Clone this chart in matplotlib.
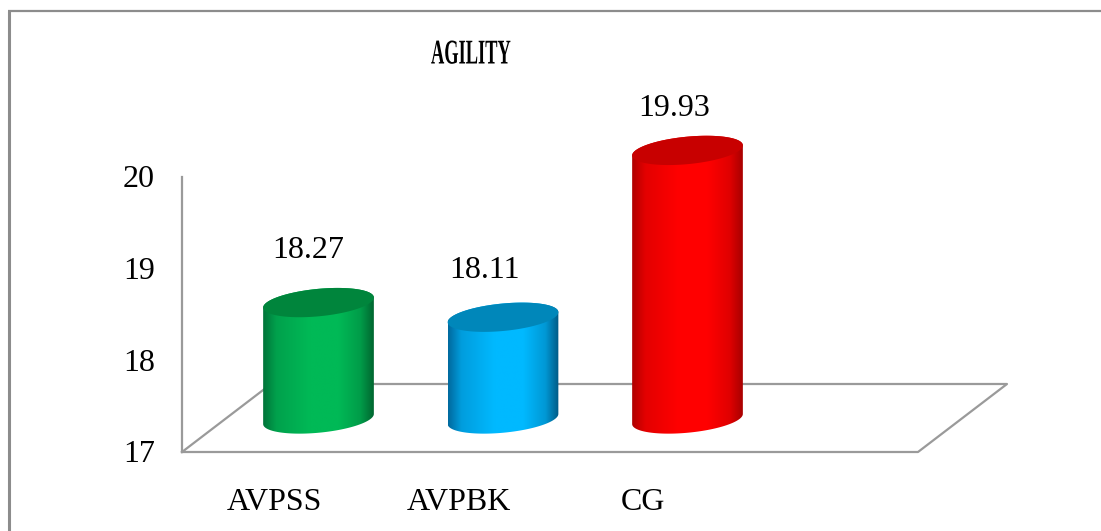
import numpy as np
import matplotlib
matplotlib.use('Agg')
import matplotlib.pyplot as plt
from matplotlib.patches import Polygon
from matplotlib.patheffects import AbstractPathEffect
from matplotlib.transforms import Affine2D

categories = ['AVPSS', 'AVPBK', 'CG']
values = [18.27, 18.11, 19.93]
y_ticks = [17, 18, 19, 20]
chart_title = 'AGILITY'

# left edge, centre, right edge of each cylinder, then the lid
bar_shades = [
	['#00743a', '#00b956', '#006630', '#00853c'],
	['#00699e', '#00b9ff', '#005a85', '#0087ba'],
	['#b00000', '#ff0000', '#a80000', '#c80000'],
]

W, H = 1101, 531
PX_PER_X = 184.5   # pixels between two categories
PX_PER_Y = 91.67   # pixels for one unit of the value axis
X0_PX, Y0_PX = 318.5, 452   # where category 0 / value 17 sit

BAR_A = 0.30       # half width of a cylinder
BAR_B = 0.15       # half height of its ellipse
BAR_TILT = 0.055   # the ellipses lean up to the right
BAR_DEPTH = 0.36   # bars stand this far back on the floor

GRAY = '#9a9a9a'
SERIF = 'Liberation Serif'
FONT_PT = 23


class Squeeze(AbstractPathEffect):
	# narrow the glyphs horizontally, for the condensed heading
	def __init__(self, sx):
		self.sx = sx

	def draw_path(self, renderer, gc, tpath, affine, rgbFace=None):
		renderer.draw_path(gc, tpath, Affine2D().scale(self.sx, 1) + affine, rgbFace)


def ellipse_arc(x, y, t):
	return np.column_stack([x + BAR_A*np.cos(t), y + BAR_TILT*np.cos(t) + BAR_B*np.sin(t)])


def hex_rgb(c):
	return np.array(matplotlib.colors.to_rgb(c))


def draw_cylinder(ax, x, value, shades):
	base = y_ticks[0] + BAR_DEPTH
	top = value + BAR_DEPTH
	body = np.vstack([ellipse_arc(x, base, np.linspace(np.pi, 2*np.pi, 80)),
					  ellipse_arc(x, top, np.linspace(0, np.pi, 80))])
	clip = Polygon(body, closed=True, facecolor='none', edgecolor='none', transform=ax.transData)
	ax.add_patch(clip)
	# dark only towards the rims, wide bright band in the middle
	pos = np.linspace(0, 1, 256)
	left, mid, right = [hex_rgb(s) for s in shades[:3]]
	stops = [0, 0.12, 0.42, 0.68, 0.88, 1]
	rgb = np.stack([left, 0.35*left + 0.65*mid, mid, mid, 0.35*right + 0.65*mid, right])
	grad = np.stack([np.interp(pos, stops, rgb[:, k]) for k in range(3)], axis=1)[None, :, :]
	im = ax.imshow(grad, extent=[x - BAR_A, x + BAR_A, base - 0.3, top + 0.3], aspect='auto',
				   interpolation='bilinear', zorder=3)
	im.set_clip_path(clip)
	lid = ellipse_arc(x, top, np.linspace(0, 2*np.pi, 160))
	ax.add_patch(Polygon(lid, closed=True, facecolor=shades[3], edgecolor='none', zorder=4))


def px_x(px):
	return (px - X0_PX)/PX_PER_X


def px_y(px):
	return y_ticks[0] + (Y0_PX - px)/PX_PER_Y


fig = plt.figure(figsize=(W/100, H/100), dpi=100)
ax = fig.add_axes([0, 0, 1, 1])
ax.axis('off')

# outer border of the chart area, only left and top are visible
ax.plot([px_x(8.5), px_x(8.5)], [px_y(H), px_y(11)], color='#8c8c8c', lw=2.2, solid_capstyle='butt')
ax.plot([px_x(7.5), px_x(W)], [px_y(11), px_y(11)], color='#8c8c8c', lw=1.6, solid_capstyle='butt')

# floor and value axis
floor_x = [px_x(182), px_x(918), px_x(1007), px_x(271), px_x(182)]
floor_y = [px_y(452), px_y(452), px_y(384), px_y(384), px_y(452)]
ax.plot(floor_x, floor_y, color=GRAY, lw=1.6, zorder=1)
ax.plot([px_x(182), px_x(182)], [y_ticks[0], y_ticks[-1]], color=GRAY, lw=1.6, zorder=1)

for i, v in enumerate(values):
	draw_cylinder(ax, i, v, bar_shades[i])

label_nudge = [(-10, 52), (-19, 47), (-13, 42)]
for i, v in enumerate(values):
	ax.annotate('%.2f' % v, xy=(i, v + BAR_DEPTH), xytext=label_nudge[i], textcoords='offset pixels',
				ha='center', va='center', family=SERIF, fontsize=FONT_PT, color='black', zorder=5)

for t in y_ticks:
	ax.text(px_x(155), t - 0.03, str(t), ha='right', va='center', family=SERIF, fontsize=FONT_PT, color='black')

for i, name in enumerate(categories):
	ax.text(i - 0.24, px_y(502), name, ha='center', va='center', family=SERIF, fontsize=FONT_PT, color='black')

title = ax.text(px_x(431), px_y(55), chart_title, ha='left', va='center', family=SERIF,
				fontweight='bold', fontsize=25, color='black')
title.set_path_effects([Squeeze(0.53)])

ax.set_xlim(px_x(0), px_x(W))
ax.set_ylim(px_y(H), px_y(0))
fig.savefig('out.png', dpi=100, facecolor='white')
